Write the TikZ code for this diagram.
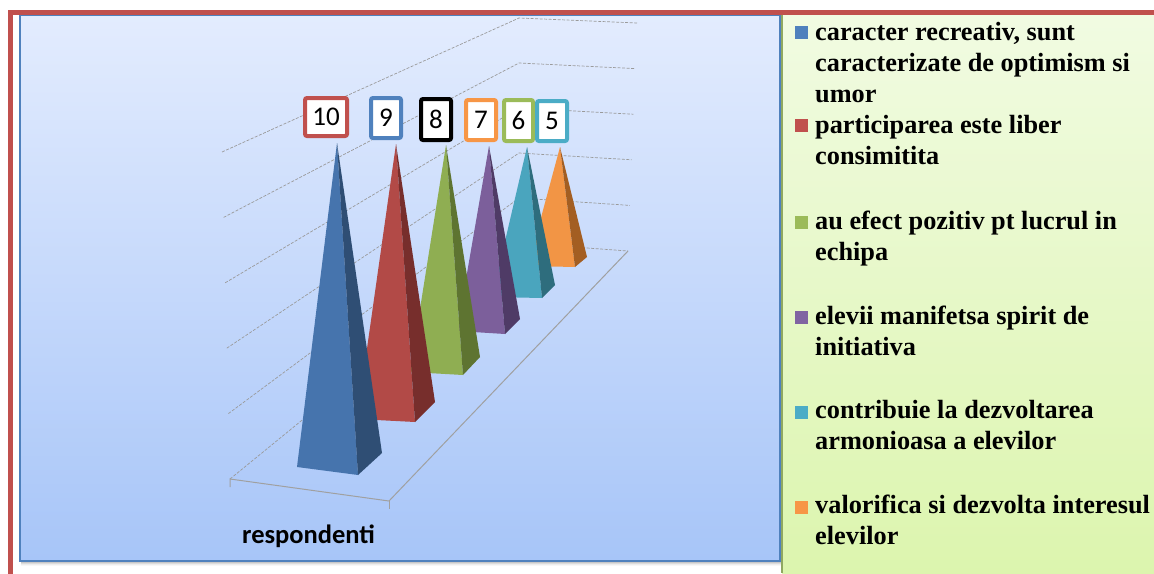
\documentclass[tikz,border=0pt]{standalone}
\usepackage{fontspec}
\setmainfont{Liberation Serif}
\newfontfamily\calib{Carlito}
\definecolor{plottop}{HTML}{E3ECFE}
\definecolor{plotbot}{HTML}{A7C5F8}
\definecolor{plotborder}{HTML}{4F81BD}
\definecolor{legtop}{HTML}{F1FBE2}
\definecolor{legbot}{HTML}{DCF5AE}
\definecolor{legborder}{HTML}{8FA860}
\definecolor{framered}{HTML}{C0504D}
\definecolor{gridgray}{HTML}{9A9A9A}
\definecolor{floorgray}{HTML}{A0A0A0}
\definecolor{bluef}{HTML}{4674AD}
\definecolor{blues}{HTML}{2F4E74}
\definecolor{redf}{HTML}{B24A47}
\definecolor{reds}{HTML}{772E2C}
\definecolor{greenf}{HTML}{8FAE52}
\definecolor{greens}{HTML}{5E7431}
\definecolor{purplef}{HTML}{7C5F9B}
\definecolor{purples}{HTML}{4F3B66}
\definecolor{tealf}{HTML}{4AA5BE}
\definecolor{teals}{HTML}{2E6D7D}
\definecolor{orangef}{HTML}{F29545}
\definecolor{oranges}{HTML}{A35E22}
\definecolor{lblue}{HTML}{4F81BD}
\definecolor{lred}{HTML}{C0504D}
\definecolor{lgreen}{HTML}{9BBB59}
\definecolor{lpurple}{HTML}{8064A2}
\definecolor{lteal}{HTML}{4BACC6}
\definecolor{lorange}{HTML}{F79646}
\newcommand\drawpyr[6]{%
  \fill[#5] #1 -- #2 -- #3 -- cycle;
  \fill[#6] #1 -- #3 -- #4 -- cycle;}
\begin{document}
\begin{tikzpicture}[x=1pt,y=-1pt,
  grid/.style={draw=gridgray, line width=0.7pt, dash pattern=on 3pt off 1.5pt},
  floorline/.style={draw=floorgray, line width=1pt},
  valbox/.style={draw=#1, line width=4pt, fill=white, rounded corners=2pt, inner sep=0pt,
    font=\calib\fontsize{27}{30}\selectfont},
  legtext/.style={anchor=base west, align=left, inner sep=0pt,
    font=\bfseries\fontsize{26.3}{31}\selectfont},
  legmark/.style={fill=#1, minimum size=12.5pt, inner sep=0pt, anchor=south west}]

\useasboundingbox (0,0) rectangle (1154,573);
\fill[white] (0,0) rectangle (1154,573);

% plot area
\shade[top color=plottop, bottom color=plotbot] (19.5,15) rectangle (779.5,560.5);
\foreach \i/\o in {1/0.30,2/0.22,3/0.14,4/0.07,5/0.03}
  \draw[black, opacity=\o, line width=1pt] (21,{560.5+\i}) -- (781,{560.5+\i});
\draw[plotborder, line width=2pt] (19.5,15) rectangle (779.5,560.5);

% legend area
\shade[top color=legtop, bottom color=legbot] (782,14) rectangle (1154,573);
\draw[legborder, line width=2pt] (782,14) -- (782,573);

% gridlines
\foreach \k in {0,...,5}
  \draw[grid] ({230-1.6*\k},{479-65.4*\k}) -- (519,{243-45*\k}) -- ({628+1.8*\k},{251-45.6*\k});

% floor
\draw[floorline] (230,487) -- (230,479) -- (389,501) -- (628,251);
\draw[floorline] (389,501) -- (389,509);

% pyramids (back to front)
\drawpyr{(560,147)}{(528,266)}{(575,267)}{(587,257)}{orangef}{oranges}
\drawpyr{(527,147)}{(492,297)}{(542,298)}{(555,285)}{tealf}{teals}
\drawpyr{(489,146)}{(457,331)}{(505,334)}{(520,319)}{purplef}{purples}
\drawpyr{(446,145)}{(410,372)}{(463,375)}{(480,357)}{greenf}{greens}
\drawpyr{(396,144)}{(357,419)}{(415,422)}{(435,402)}{redf}{reds}
\drawpyr{(337,143)}{(297,467)}{(358,475)}{(382,453)}{bluef}{blues}

% value labels
\node[valbox=lred, minimum width=42pt, minimum height=38pt] (v10) at (326,117) {10};
\node[valbox=lblue, minimum width=30pt, minimum height=40pt] (v9) at (386,118) {9};
\node[valbox=black, minimum width=30pt, minimum height=41pt] (v8) at (436,119.5) {8};
\node[valbox=lorange, minimum width=30pt, minimum height=40pt] (v7) at (481,120) {7};
\node[valbox=lgreen, minimum width=29pt, minimum height=41pt] (v6) at (518.5,120.5) {6};
\node[valbox=lteal, minimum width=30pt, minimum height=40pt] (v5) at (552,121) {5};

% category label
\node[font=\calib\bfseries\fontsize{26.5}{30}\selectfont, anchor=base west, inner sep=0pt] (cat) at (242,543) {respondenti};

% red frame
\draw[framered, line width=5pt] (10,580) -- (10,12) -- (1160,12);

% legend (node base = baseline of the last line)
\node[legmark=lblue] (m1) at (795,39) {};
\node[legtext] (t1) at (815,102) {caracter recreativ, sunt\\caracterizate de optimism si\\umor};
\node[legmark=lred] (m2) at (795,132) {};
\node[legtext] (t2) at (815,164) {participarea este liber\\consimitita};
\node[legmark=lgreen] (m3) at (795,229) {};
\node[legtext] (t3) at (815,260) {au efect pozitiv pt lucrul in\\echipa};
\node[legmark=lpurple] (m4) at (795,324) {};
\node[legtext] (t4) at (815,355) {elevii manifetsa spirit de\\initiativa};
\node[legmark=lteal] (m5) at (795,419) {};
\node[legtext] (t5) at (815,449) {contribuie la dezvoltarea\\armonioasa a elevilor};
\node[legmark=lorange] (m6) at (795,514) {};
\node[legtext] (t6) at (815,544) {valorifica si dezvolta interesul\\elevilor};
\end{tikzpicture}
\end{document}
